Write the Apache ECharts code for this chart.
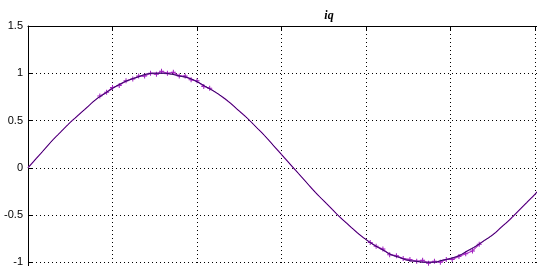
<!DOCTYPE html>
<html>
<head>
<meta charset="utf-8">
<script src="https://cdn.jsdelivr.net/npm/echarts@6/dist/echarts.min.js"></script>
<style>html,body{margin:0;padding:0;background:#fff;}#c{width:537px;height:266px;}</style>
</head>
<body>
<div id="c"></div>
<script>
// Reference curve (dark line), x in grid units (one grid cell = 1)
var refX = [0,0.1,0.2,0.3,0.4,0.5,0.6,0.7,0.8,0.9,1.0,1.1,1.2,1.3,1.4,1.5,1.6,1.7,1.8,1.9,2.0,2.1,2.2,2.3,2.4,2.5,2.6,2.7,2.8,2.9,3.0,3.1,3.2,3.3,3.4,3.5,3.6,3.7,3.8,3.9,4.0,4.1,4.2,4.3,4.4,4.5,4.6,4.7,4.8,4.9,5.0,5.1,5.2,5.3,5.4,5.5,5.6,5.7,5.8,5.9,6.0,6.1,6.2];
var refY = [0,0.10,0.20,0.30,0.39,0.48,0.56,0.64,0.72,0.78,0.84,0.89,0.93,0.96,0.99,1.00,1.00,0.99,0.97,0.95,0.91,0.86,0.81,0.75,0.68,0.60,0.52,0.43,0.34,0.24,0.14,0.04,-0.06,-0.16,-0.26,-0.35,-0.44,-0.53,-0.61,-0.69,-0.76,-0.82,-0.87,-0.92,-0.95,-0.98,-0.99,-1.00,-1.00,-0.98,-0.96,-0.93,-0.88,-0.83,-0.77,-0.71,-0.63,-0.55,-0.46,-0.37,-0.28,-0.18,-0.08];
// Measured signal (magenta, noisy near extremes)
var peakX = [0.85,0.93,1.0,1.08,1.16,1.24,1.31,1.38,1.45,1.52,1.58,1.65,1.72,1.79,1.86,1.93,2.0,2.08,2.15];
var peakY = [0.76,0.80,0.85,0.87,0.92,0.94,0.97,0.97,1.00,0.99,1.02,1.00,1.01,0.97,0.97,0.93,0.92,0.86,0.84];
var troughX = [4.05,4.12,4.2,4.28,4.36,4.44,4.52,4.6,4.67,4.74,4.81,4.88,4.95,5.02,5.1,5.18,5.26,5.34];
var troughY = [-0.79,-0.83,-0.86,-0.92,-0.93,-0.96,-0.97,-0.99,-0.98,-1.01,-0.99,-1.00,-0.97,-0.97,-0.94,-0.91,-0.88,-0.81];
var yTicks = [-1.5,-1,-0.5,0,0.5,1,1.5];
var titleText = 'iq';

function pairs(xs, ys){ return xs.map(function(x,i){ return [x, ys[i]]; }); }
var plus = 'path://M4,0h2v4h4v2h-4v4h-2v-4h-4v-2h4z';

var chart = echarts.init(document.getElementById('c'), null, {renderer:'canvas'});
chart.setOption({
  animation:false,
  backgroundColor:'#ffffff',
  title:{text:titleText, left:324, top:5, textAlign:'center',
    textStyle:{fontFamily:'Liberation Serif', fontStyle:'italic', fontWeight:'bold', fontSize:12, color:'#000'}},
  grid:{left:28, top:26, width:591.5, height:283.5, containLabel:false, outerBoundsMode:'none'},
  xAxis:[
    {type:'value', min:0, max:7, interval:1, position:'bottom',
     axisLine:{show:false}, axisTick:{show:false}, axisLabel:{show:false},
     splitLine:{show:true, lineStyle:{color:'#000', width:1, type:[1,3]}}},
    {type:'value', min:0, max:7, interval:1, position:'top',
     axisLine:{show:true, onZero:false, lineStyle:{color:'#000', width:1}},
     axisTick:{show:true, inside:true, length:4, lineStyle:{color:'#000'}},
     axisLabel:{show:false}, splitLine:{show:false}}
  ],
  yAxis:{type:'value', min:-1.5, max:1.5, interval:0.5,
    axisLine:{show:true, onZero:false, lineStyle:{color:'#000', width:1}},
    axisTick:{show:true, inside:true, length:4, lineStyle:{color:'#000'}},
    axisLabel:{show:true, margin:5, color:'#000', fontFamily:'Liberation Sans', fontSize:11,
      formatter:function(v){ return yTicks.indexOf(v)>=0 ? String(v) : ''; }},
    splitLine:{show:true, lineStyle:{color:'#000', width:1, type:[1,3]}}},
  series:[
    {type:'line', xAxisIndex:0, data:pairs(refX, refY), showSymbol:false, smooth:true,
     lineStyle:{color:'#c040d0', width:1.3}, z:2},
    {type:'line', xAxisIndex:0, data:pairs(peakX, peakY), symbol:plus, symbolSize:5,
     lineStyle:{color:'#b030c8', width:1.1}, itemStyle:{color:'#a020c0'}, z:3},
    {type:'line', xAxisIndex:0, data:pairs(troughX, troughY), symbol:plus, symbolSize:5,
     lineStyle:{color:'#b030c8', width:1.1}, itemStyle:{color:'#a020c0'}, z:3},
    {type:'line', xAxisIndex:0, data:pairs(refX, refY), showSymbol:false, smooth:true,
     lineStyle:{color:'#1a0850', width:0.9}, z:4}
  ]
});
</script>
</body>
</html>
